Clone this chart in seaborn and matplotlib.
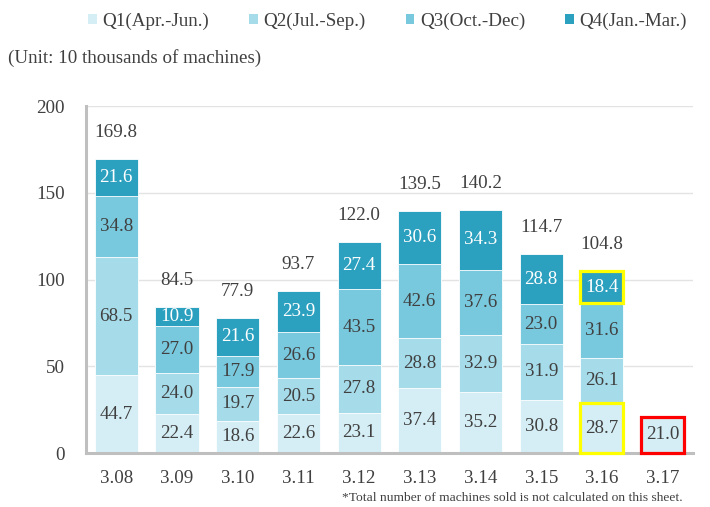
import numpy as np
import pandas as pd
import matplotlib
matplotlib.use("Agg")
import matplotlib.pyplot as plt
from matplotlib.patches import Patch, Rectangle
import seaborn as sns

# Fiscal years (3.08 = FY ending March 2008)
years = ["3.08", "3.09", "3.10", "3.11", "3.12", "3.13", "3.14", "3.15", "3.16", "3.17"]
q1 = [44.7, 22.4, 18.6, 22.6, 23.1, 37.4, 35.2, 30.8, 28.7, 21.0]
q2 = [68.5, 24.0, 19.7, 20.5, 27.8, 28.8, 32.9, 31.9, 26.1, np.nan]
q3 = [34.8, 27.0, 17.9, 26.6, 43.5, 42.6, 37.6, 23.0, 31.6, np.nan]
q4 = [21.6, 10.9, 21.6, 23.9, 27.4, 30.6, 34.3, 28.8, 18.4, np.nan]
totals = [169.8, 84.5, 77.9, 93.7, 122.0, 139.5, 140.2, 114.7, 104.8, np.nan]

quarter_names = ["Q1(Apr.-Jun.)", "Q2(Jul.-Sep.)", "Q3(Oct.-Dec)", "Q4(Jan.-Mar.)"]
quarter_colors = ["#d5eef5", "#a6dcea", "#78c8de", "#2ba0bf"]
label_colors = ["#404040", "#404040", "#404040", "#ffffff"]

sns.set_theme(style="white")
plt.rcParams["font.family"] = ["Liberation Serif", "DejaVu Serif"]
text_color = "#404040"
fs = 13.7

fig = plt.figure(figsize=(7.10, 5.07), dpi=100)
ax = fig.add_axes([0.121, 0.1065, 0.855, 0.684])

quarters = np.array([q1, q2, q3, q4], dtype=float)
cum = np.nancumsum(quarters, axis=0)
cum[np.isnan(quarters)] = np.nan
bottoms = np.vstack([np.zeros(len(years)), cum[:-1]])

# Draw the cumulative stacks from the top quarter down so lower segments overlay
bar_width = 0.71
containers = {}
for qi in range(3, -1, -1):
    df = pd.DataFrame({"year": years, "value": cum[qi]})
    sns.barplot(data=df, x="year", y="value", color=quarter_colors[qi],
                saturation=1, width=bar_width, errorbar=None, ax=ax,
                edgecolor="white", linewidth=0.6, order=years)
    containers[qi] = ax.containers[-1]

# Segment labels
for qi in range(4):
    for i, v in enumerate(quarters[qi]):
        if np.isnan(v):
            continue
        ax.text(i, bottoms[qi][i] + v / 2, f"{v:.1f}", ha="center", va="center",
                fontsize=fs, color=label_colors[qi])

# Total labels above bars
for i, t in enumerate(totals):
    if np.isnan(t):
        continue
    ax.annotate(f"{t:.1f}", xy=(i, t), xytext=(0, 19), textcoords="offset points",
                ha="center", va="center", fontsize=fs, color=text_color)

# Highlight boxes around selected segments
def outline(qi, i, color):
    p = containers[qi].patches[i]
    x0 = p.get_x()
    w = p.get_width()
    y0 = bottoms[qi][i]
    h = quarters[qi][i]
    ax.add_patch(Rectangle((x0, y0), w, h, fill=False, edgecolor=color,
                           linewidth=2.3, clip_on=False, zorder=5))

outline(3, 8, "#ffff00")
outline(0, 8, "#ffff00")
outline(0, 9, "#ff0000")

ax.set_xlim(-0.5, len(years) - 0.5)
ax.set_ylim(0, 200)
ax.set_yticks([0, 50, 100, 150, 200])
ax.yaxis.grid(True, color="#e3e3e3", linewidth=1)
ax.set_axisbelow(True)
ax.set_xlabel("")
ax.set_ylabel("")

for side in ["top", "right"]:
    ax.spines[side].set_visible(False)
for side in ["left", "bottom"]:
    ax.spines[side].set_color("#bfbfbf")
    ax.spines[side].set_linewidth(2.2)

ax.set_xticks(range(len(years)))
ax.set_xticklabels(years)
ax.tick_params(axis="x", length=0, pad=12, labelsize=fs, labelcolor=text_color)
ax.tick_params(axis="y", length=0, pad=15, labelsize=fs, labelcolor=text_color)
ax.set_xticks(np.arange(0.5, len(years) - 0.5, 1), minor=True)
ax.tick_params(axis="x", which="minor", direction="in", length=4, width=1.5,
               color="#bfbfbf")

handles = [Patch(facecolor=c, edgecolor="none", label=n)
           for c, n in zip(quarter_colors, quarter_names)]
fig.legend(handles=handles, loc="center", bbox_to_anchor=(0.546, 0.958), ncol=4,
           frameon=False, fontsize=fs, handlelength=0.45, handleheight=0.45,
           handletextpad=0.3, columnspacing=2.1, labelcolor=text_color,
           borderpad=0, borderaxespad=0)

fig.text(0.011, 0.885, "(Unit: 10 thousands of machines)", fontsize=fs,
         color=text_color, ha="left", va="center")
fig.text(0.962, 0.018, "*Total number of machines sold is not calculated on this sheet.",
         fontsize=9.7, color=text_color, ha="right", va="center")

fig.savefig("out.png", dpi=100)
